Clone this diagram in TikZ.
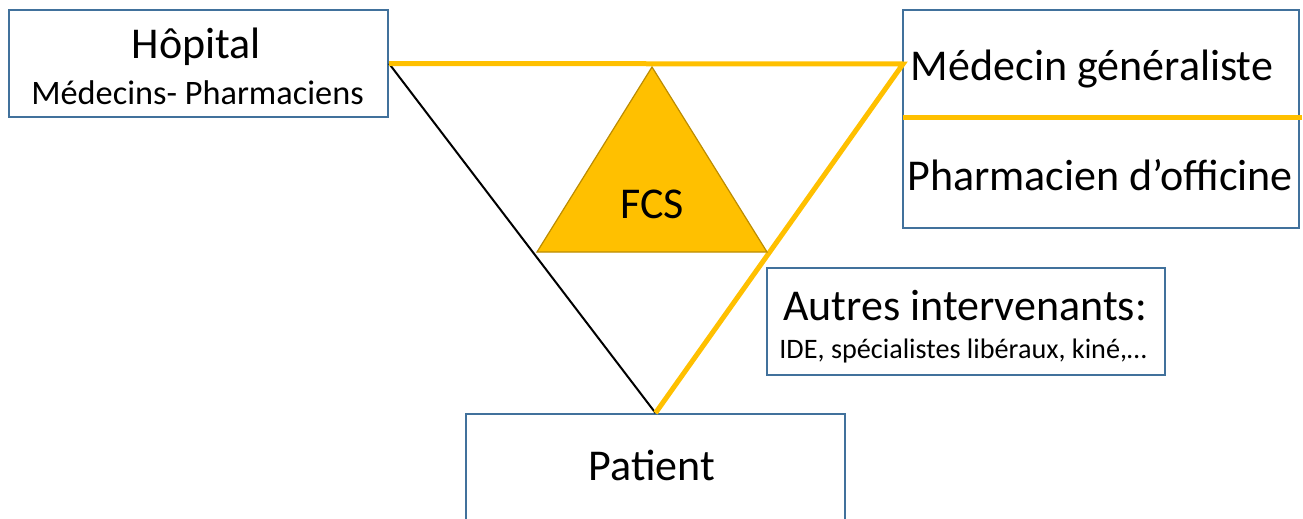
\documentclass[tikz,border=0pt]{standalone}
\usepackage{fontspec}
\setmainfont{Carlito}
\definecolor{boxblue}{RGB}{65,113,156}
\definecolor{gold}{RGB}{255,192,0}
\definecolor{golddark}{RGB}{188,140,0}
\begin{document}
\begin{tikzpicture}[x=1pt,y=-1pt,
  boxnode/.style={draw=boxblue,line width=2pt,fill=white,rectangle,inner sep=0pt},
  bigtext/.style={font=\fontsize{44}{50}\selectfont,inner sep=0pt,anchor=base},
  midtext/.style={font=\fontsize{34.3}{40}\selectfont,inner sep=0pt,anchor=base},
  smalltext/.style={font=\fontsize{28.2}{34}\selectfont,inner sep=0pt,anchor=base},
  goldline/.style={draw=gold,line width=5pt},
  blackline/.style={draw=black,line width=2pt}]
\useasboundingbox (0,0) rectangle (1303,519);
\clip (0,0) rectangle (1303,519);
% boxes
\node[boxnode,minimum width=379pt,minimum height=107pt] (hop) at (198.5,63.5) {};
\node[boxnode,minimum width=396pt,minimum height=218pt] (mgpo) at (1101,119) {};
\node[boxnode,minimum width=398pt,minimum height=107pt] (autres) at (966,321.5) {};
\node[boxnode,minimum width=379pt,minimum height=146pt] (pat) at (655.5,487) {};
% coordinates
\coordinate (mg) at (903,64);
\coordinate (divL) at (903,117);
\coordinate (divR) at (1302,117);
\coordinate (tA) at (652,67);
\coordinate (tB) at (537,252);
\coordinate (tC) at (767,252);
% lines
\draw[blackline] (hop.east) -- (pat.north);
\draw[goldline,line join=miter] (hop.east) -- (mg) -- (pat.north);
\draw[goldline] (divL) -- (divR);
% triangle
\draw[fill=gold,draw=golddark,line width=1.2pt,line join=miter] (tA) -- (tB) -- (tC) -- cycle;
% texts
\node[bigtext] (thop) at (196.5,59) {Hôpital};
\node[midtext] (thop2) at (197.5,104) {Médecins- Pharmaciens};
\node[bigtext] (tmg) at (1092,80) {Médecin généraliste};
\node[bigtext] (tpo) at (1100,190) {Pharmacien d’officine};
\node[bigtext] (tfcs) at (652,218) {FCS};
\node[bigtext] (taut) at (965,320) {Autres intervenants:};
\node[smalltext] (tide) at (963,358) {IDE, spécialistes libéraux, kiné,…};
\node[bigtext] (tpat) at (652,480) {Patient};
\end{tikzpicture}
\end{document}
